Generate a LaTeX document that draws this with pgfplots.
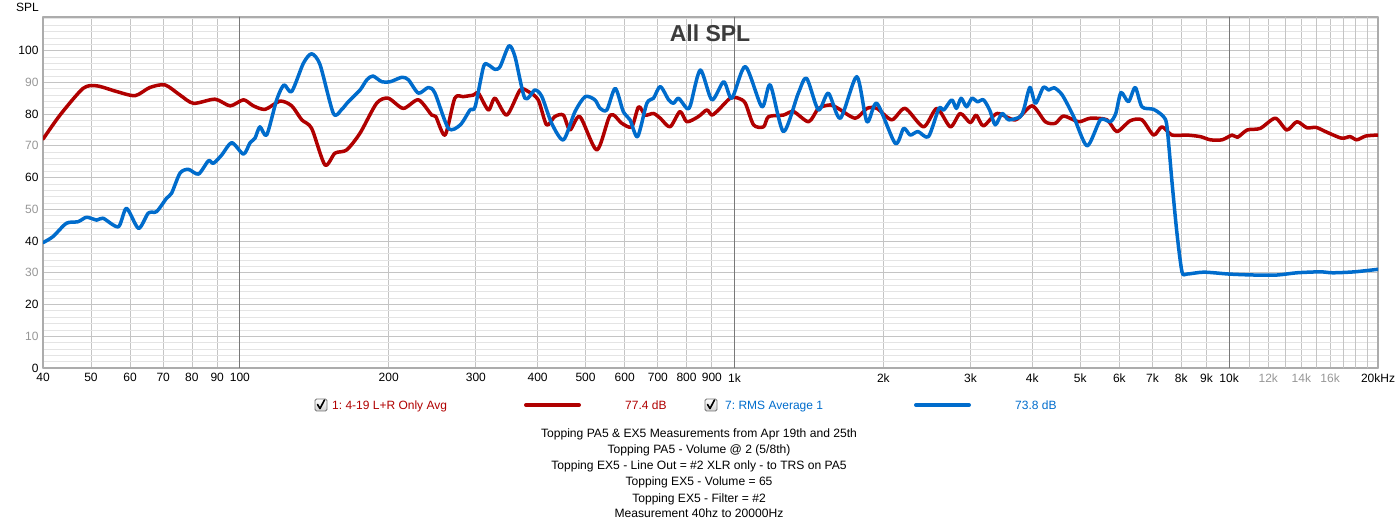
\documentclass[border=0pt]{standalone}
\usepackage{fontspec}
\setmainfont{Liberation Sans}
\usepackage{pgfplots}
\pgfplotsset{compat=1.18}
\frenchspacing
\definecolor{cred}{RGB}{176,0,0}
\definecolor{cblue}{RGB}{0,108,204}
\definecolor{gridmin}{RGB}{228,228,228}
\definecolor{gridmaj}{RGB}{196,196,196}
\definecolor{griddark}{RGB}{120,120,120}
\definecolor{lblgray}{RGB}{150,150,150}
\definecolor{titlegray}{RGB}{60,60,60}
\newcommand{\checkbox}[2]{%
  \draw[rounded corners=1.5bp, draw=gray!90!black, top color=white, bottom color=gray!35, line width=0.8bp] (#1bp-6bp,#2bp-6bp) rectangle (#1bp+6bp,#2bp+6bp);
  \draw[line width=1.6bp, black, line cap=round, line join=round] (#1bp-3.5bp,#2bp+0.5bp) -- (#1bp-1bp,#2bp-3.5bp) -- (#1bp+3.5bp,#2bp+5bp);
}
\begin{document}
\begin{tikzpicture}
\useasboundingbox (0,0) rectangle (1400bp,526bp);
\begin{axis}[
  at={(43bp,158bp)}, anchor=south west,
  scale only axis, width=1335bp, height=351bp,
  xmode=log, log basis x=10,
  xmin=40, xmax=20000, ymin=0, ymax=110.6,
  xtick={40,50,60,70,80,90,100,200,300,400,500,600,700,800,900,1000,2000,3000,4000,5000,6000,7000,8000,9000,10000,12000,14000,16000,20000},
  xticklabels={40,50,60,70,80,90,100,200,300,400,500,600,700,800,900,1k,2k,3k,4k,5k,6k,7k,8k,9k,10k,{\color{lblgray}12k},{\color{lblgray}14k},{\color{lblgray}16k},20kHz},
  extra x ticks={11000,13000,15000,17000,18000,19000},
  extra x tick labels={},
  extra x tick style={grid=major},
  ytick={0,10,...,100},
  yticklabels={0,{\color{lblgray}10},20,{\color{lblgray}30},40,{\color{lblgray}50},60,{\color{lblgray}70},80,{\color{lblgray}90},100},
  minor ytick={2,4,...,110},
  xmajorgrids=true, ymajorgrids=true, yminorgrids=true,
  major grid style={draw=gridmaj, line width=0.8bp},
  minor grid style={draw=gridmin, line width=0.8bp},
  major tick length=0pt, minor tick length=0pt,
  tick label style={font=\fontsize{12bp}{14bp}\selectfont, text=black},
  xticklabel style={yshift=-2bp},
  yticklabel style={xshift=-1bp},
  axis line style={draw=gray!65, line width=2bp},
  line join=round, line cap=round,
]
\draw[griddark, line width=0.8bp] (axis cs:100,0) -- (axis cs:100,110.6);
\draw[griddark, line width=0.8bp] (axis cs:1000,0) -- (axis cs:1000,110.6);
\draw[griddark, line width=0.8bp] (axis cs:10000,0) -- (axis cs:10000,110.6);
\addplot[cred, line width=3.5bp, smooth, tension=0.45] table {
40 72.1
43.3 79.7
48.2 88.1
51.4 88.9
56.4 87.1
61.4 85.8
65.8 88.4
70.6 89.2
75.7 86.0
80.6 83.4
89.1 84.7
95.6 82.6
101.7 84.5
106.5 82.6
112.5 81.5
120.6 84.1
127.3 82.6
133.4 78.2
139.7 75.5
148.6 64.0
155.7 67.7
164.4 68.7
175 74.0
189 83.4
199.6 85.0
214 81.8
229.6 84.5
244.3 79.7
249 79.2
260 73.4
272 85.0
283 85.5
296.6 86.0
303.6 86.6
318 81.3
328 85.0
346.5 79.7
368.6 87.6
383 87.1
401 84.5
417 76.6
433 79.2
450.8 79.7
465 75.0
487 79.2
527 68.7
561 79.7
592 77.1
620 76.0
640 82.3
660 79.7
686 80.2
708 78.7
741 76.0
776 80.8
801 77.6
845 79.2
879 81.3
900 79.7
928 81.3
980 85.0
1019 85.0
1052 83.4
1093 76.6
1145 76.0
1172 79.2
1256 79.7
1316 80.8
1412 77.6
1479 81.8
1563 82.9
1620 81.8
1755 78.7
1853 81.8
1941 81.8
2080 78.2
2213 81.8
2411 76.0
2566 81.8
2731 76.0
2860 80.2
2997 77.3
3081 79.7
3187 76.3
3398 80.2
3700 78.2
3996 82.6
4250 77.6
4453 77.1
4627 79.4
4964 77.6
5240 78.7
5664 78.2
5931 74.5
6309 77.9
6665 78.2
7036 73.4
7317 76.0
7662 73.4
8214 73.4
8749 72.9
9165 71.9
9677 71.9
10140 73.4
10400 72.7
10880 75.0
11560 75.5
12400 78.7
13080 75.0
13710 77.6
14360 75.7
15000 75.8
15760 74.3
16890 72.4
17560 72.9
18120 71.9
18900 73.1
20000 73.4
};
\addplot[cblue, line width=3.5bp, smooth, tension=0.45] table {
40 39.5
41.9 41.4
44.6 45.6
47.1 46.1
49.0 47.5
51.4 46.6
52.9 47.2
56.8 44.5
59.0 50.3
62.4 44.0
65.3 48.8
67.9 49.3
71.1 53.5
72.8 55.1
75.7 61.4
78.7 62.6
82.5 61.1
86.4 65.3
88.4 64.5
91.9 67.1
96.3 71.0
101.7 67.4
104.9 71.0
107.3 72.4
109.8 76.0
113.3 73.4
118.7 84.5
122.8 89.2
127.3 87.1
134.4 96.0
139.7 99.0
145.3 95.5
154.6 80.2
160.7 81.5
165.7 83.9
175 87.6
180.6 90.8
185.8 92.0
193.7 90.2
201.4 90.2
212.6 91.6
219.2 90.8
229.6 86.6
240.5 88.4
248 86.6
264 75.5
279 76.6
292 81.3
299 82.3
311 95.0
318 95.5
328 94.1
336 95.0
350 101.5
360 98.1
377 85.0
395 87.6
408 85.5
427 77.1
451 71.9
476 80.8
499 85.5
522 84.5
535 81.8
552 81.3
574 88.1
596 80.8
615 78.2
637 72.9
665 83.4
686 85.0
708 88.7
736 84.5
753 83.4
771 85.0
801 81.8
815 82.9
853 93.9
900 84.5
951 90.2
988 85.0
1052 95.0
1136 82.3
1181 89.2
1256 74.5
1346 86.6
1399 91.3
1478 81.3
1548 86.6
1637 78.7
1767 91.8
1853 77.6
1941 83.4
2113 70.8
2198 75.5
2266 73.4
2350 74.5
2467 72.9
2590 81.8
2650 81.3
2749 84.5
2810 81.8
2872 85.0
2945 82.3
3020 85.0
3100 83.9
3187 84.5
3280 81.3
3367 76.6
3475 80.2
3584 78.2
3784 79.2
3850 81.8
3957 88.4
4060 83.4
4210 88.4
4320 87.6
4430 88.3
4600 86.0
4850 79.2
5163 70.0
5492 78.2
5752 77.6
5900 80.2
6044 86.8
6259 83.9
6460 88.4
6665 82.3
7036 81.5
7369 79.2
7490 76.0
7670 58.2
7845 42.5
8030 30.3
8214 29.6
8890 30.2
10000 29.6
11220 29.3
12500 29.3
13710 30.0
15280 30.3
16200 30.0
17930 30.3
20000 31.1
};
\end{axis}
% axis name and title
\node[anchor=base west, font=\fontsize{12bp}{14bp}\selectfont, inner sep=0pt] at (16bp,514bp) {SPL};
\node[anchor=base, font=\fontsize{23bp}{26bp}\selectfont\bfseries, text=titlegray, inner sep=0pt] at (710bp,484.5bp) {All SPL};
% legend row
\checkbox{321}{121}
\node[anchor=base west, inner sep=0pt, font=\fontsize{12bp}{14bp}\selectfont, text=cred] at (332bp,116.5bp) {1: 4-19 L+R Only Avg};
\draw[cred, line width=4bp, line cap=round] (526bp,121bp) -- (579bp,121bp);
\node[anchor=base west, inner sep=0pt, font=\fontsize{12bp}{14bp}\selectfont, text=cred] at (625bp,116.5bp) {77.4 dB};
\checkbox{711}{121}
\node[anchor=base west, inner sep=0pt, font=\fontsize{12bp}{14bp}\selectfont, text=cblue] at (725bp,116.5bp) {7: RMS Average 1};
\draw[cblue, line width=4bp, line cap=round] (916bp,121bp) -- (969bp,121bp);
\node[anchor=base west, inner sep=0pt, font=\fontsize{12bp}{14bp}\selectfont, text=cblue] at (1015bp,116.5bp) {73.8 dB};
% footer notes
\begin{scope}[every node/.style={anchor=base, inner sep=0pt, font=\fontsize{12.1bp}{14bp}\selectfont}]
\node at (699bp,88bp) {Topping PA5 \& EX5 Measurements from Apr 19th and 25th};
\node at (699bp,72.5bp) {Topping PA5 - Volume @ 2 (5/8th)};
\node at (699bp,56bp) {Topping EX5 - Line Out = \#2 XLR only - to TRS on PA5};
\node at (699bp,40bp) {Topping EX5 - Volume = 65};
\node at (699bp,24bp) {Topping EX5 - Filter = \#2};
\node at (699bp,9bp) {Measurement 40hz to 20000Hz};
\end{scope}
\end{tikzpicture}
\end{document}
